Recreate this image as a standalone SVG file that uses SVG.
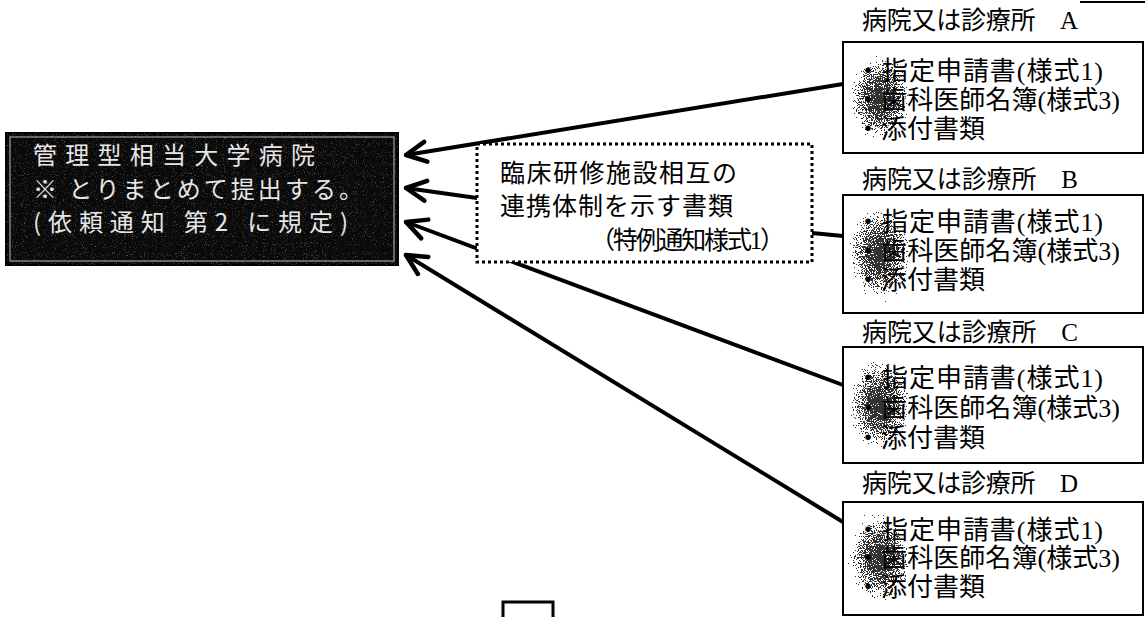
<svg xmlns="http://www.w3.org/2000/svg" width="1145" height="617" viewBox="0 0 1145 617">
<style>
.rbox{fill:#fff;stroke:#000;stroke-width:2}
.lbl{font-family:"Liberation Serif","Noto Sans CJK JP",serif;font-size:25px;fill:#000}
.doc{font-family:"Liberation Serif","Noto Sans CJK JP",serif;font-size:26px;fill:#000}
.wt{font-family:"Noto Sans CJK JP",sans-serif;font-size:24px;fill:#e6e6e6}
.dt{font-family:"Liberation Serif","Noto Sans CJK JP",serif;font-size:25px;fill:#000}
.conn{stroke:#000;stroke-width:4;fill:none;stroke-linecap:round}
.blob{fill:url(#blobGrad);filter:url(#grain)}
</style>
<defs>
<marker id="arr" viewBox="0 0 26 26" refX="23" refY="13" markerWidth="26" markerHeight="26" markerUnits="userSpaceOnUse" orient="auto">
<path d="M3,3 L23,13 L3,23" fill="none" stroke="#000" stroke-width="4.5" stroke-linecap="round" stroke-linejoin="round"/>
</marker>
<radialGradient id="blobGrad" cx="0.5" cy="0.5" r="0.5">
<stop offset="0" stop-color="#000" stop-opacity="0.8"/>
<stop offset="0.55" stop-color="#000" stop-opacity="0.5"/>
<stop offset="1" stop-color="#000" stop-opacity="0.05"/>
</radialGradient>
<filter id="grain" x="-10%" y="-10%" width="120%" height="120%">
<feTurbulence type="fractalNoise" baseFrequency="0.9" numOctaves="2" seed="7" result="t"/>
<feColorMatrix in="t" type="matrix" values="0 0 0 0 0  0 0 0 0 0  0 0 0 0 0  1 0 0 0 0" result="n"/>
<feComposite in="SourceGraphic" in2="n" operator="arithmetic" k1="0" k2="1" k3="1" k4="-0.56" result="s"/>
<feComponentTransfer in="s">
<feFuncA type="discrete" tableValues="0 0.8"/>
</feComponentTransfer>
</filter>
<filter id="grain2" x="0" y="0" width="100%" height="100%">
<feTurbulence type="fractalNoise" baseFrequency="0.9" numOctaves="2" seed="3" result="t"/>
<feColorMatrix in="t" type="matrix" values="0 0 0 0 0  0 0 0 0 0  0 0 0 0 0  4 0 0 0 -2.4" result="m"/>
<feComposite in="SourceGraphic" in2="m" operator="in"/>
</filter>
</defs>

<g id="connectors">
<line class="conn" x1="843" y1="84" x2="406" y2="155" marker-end="url(#arr)"/>
<line class="conn" x1="477" y1="198" x2="406" y2="188" marker-end="url(#arr)"/>
<line class="conn" x1="843" y1="385" x2="406" y2="222" marker-end="url(#arr)"/>
<line class="conn" x1="843" y1="522" x2="406" y2="255" marker-end="url(#arr)"/>
<line class="conn" x1="812" y1="233" x2="843" y2="236"/>
</g>

<g id="main-hospital">
<rect x="6" y="133" width="392" height="132" fill="#0a0a0a" stroke="#000" stroke-width="2"/>
<rect x="6" y="133" width="392" height="132" fill="#fff" opacity="0.35" filter="url(#grain2)"/>
<rect x="10" y="137" width="384" height="124" fill="none" stroke="#bbb" stroke-width="1"/>
<text class="wt"><tspan x="33" y="164" textLength="282" lengthAdjust="spacing">管理型相当大学病院</tspan><tspan x="33" y="198" textLength="330" lengthAdjust="spacing">※ とりまとめて提出する。</tspan><tspan x="33" y="231" textLength="315" lengthAdjust="spacing">(依頼通知 第2 に規定)</tspan></text>
</g>

<g id="coop-doc">
<rect x="477" y="144" width="335" height="118" fill="#fff" stroke="#000" stroke-width="3" stroke-dasharray="3 3"/>
<text class="dt" x="500" y="182" textLength="237" lengthAdjust="spacing">臨床研修施設相互の</text>
<text class="dt" x="500" y="215" textLength="233" lengthAdjust="spacing">連携体制を示す書類</text>
<text class="dt" x="590" y="249" textLength="195" lengthAdjust="spacing">（特例通知様式1）</text>
</g>

<g id="hospital-a">
<text class="lbl" x="862" y="29" textLength="216" lengthAdjust="spacing">病院又は診療所　A</text>
<rect class="rbox" x="843" y="42" width="300" height="111"/>
<ellipse class="blob" cx="880" cy="98" rx="40" ry="56"/>
<text class="doc" x="855" y="80" textLength="248" lengthAdjust="spacing">・指定申請書(様式1)</text>
<text class="doc" x="855" y="109" textLength="265" lengthAdjust="spacing">・歯科医師名簿(様式3)</text>
<text class="doc" x="855" y="138">・添付書類</text>
</g>

<g id="hospital-b">
<text class="lbl" x="862" y="188" textLength="216" lengthAdjust="spacing">病院又は診療所　B</text>
<rect class="rbox" x="843" y="195" width="300" height="118"/>
<ellipse class="blob" cx="880" cy="254" rx="42" ry="60"/>
<text class="doc" x="855" y="231" textLength="248" lengthAdjust="spacing">・指定申請書(様式1)</text>
<text class="doc" x="855" y="260" textLength="265" lengthAdjust="spacing">・歯科医師名簿(様式3)</text>
<text class="doc" x="855" y="289">・添付書類</text>
</g>

<g id="hospital-c">
<text class="lbl" x="862" y="341" textLength="216" lengthAdjust="spacing">病院又は診療所　C</text>
<rect class="rbox" x="843" y="347" width="300" height="116"/>
<ellipse class="blob" cx="880" cy="405" rx="42" ry="60"/>
<text class="doc" x="855" y="387" textLength="248" lengthAdjust="spacing">・指定申請書(様式1)</text>
<text class="doc" x="855" y="417" textLength="265" lengthAdjust="spacing">・歯科医師名簿(様式3)</text>
<text class="doc" x="855" y="447">・添付書類</text>
</g>

<g id="hospital-d">
<text class="lbl" x="862" y="492" textLength="216" lengthAdjust="spacing">病院又は診療所　D</text>
<rect class="rbox" x="843" y="502" width="300" height="113"/>
<ellipse class="blob" cx="880" cy="558" rx="42" ry="58"/>
<text class="doc" x="855" y="539" textLength="248" lengthAdjust="spacing">・指定申請書(様式1)</text>
<text class="doc" x="855" y="567" textLength="265" lengthAdjust="spacing">・歯科医師名簿(様式3)</text>
<text class="doc" x="855" y="596">・添付書類</text>
</g>

<g id="fragments">
<line x1="1080" y1="2" x2="1145" y2="2" stroke="#000" stroke-width="2"/>
<path d="M503,617 V602 H553 V617" fill="none" stroke="#000" stroke-width="3"/>
</g>
</svg>
